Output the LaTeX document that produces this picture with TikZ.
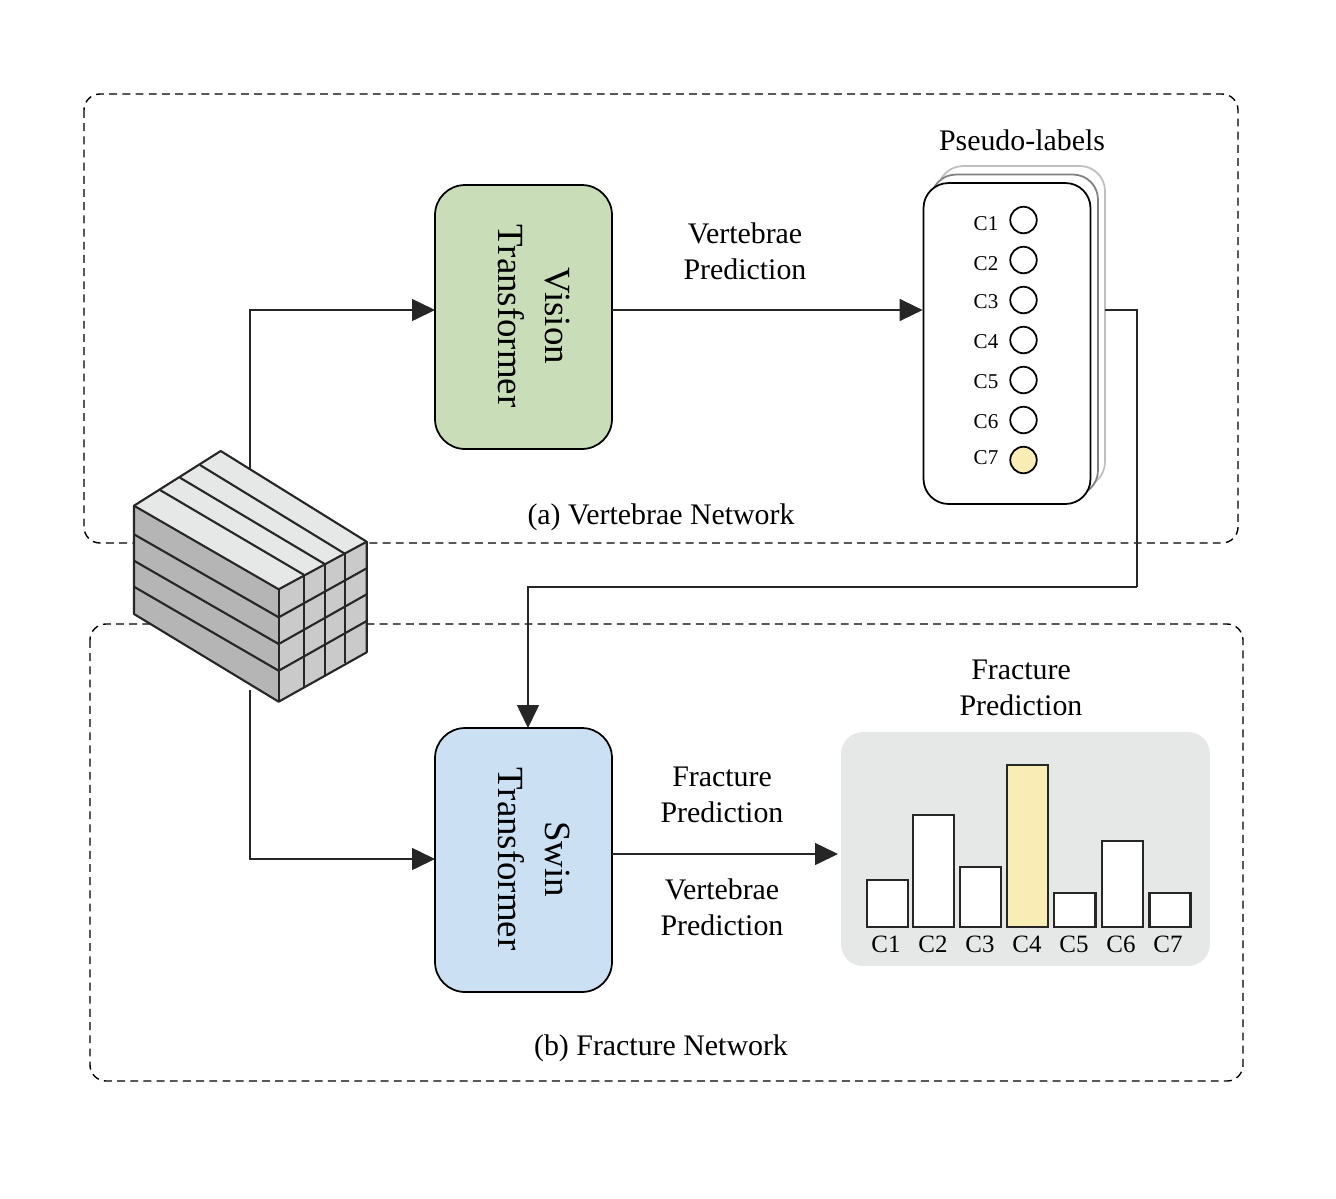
\documentclass[tikz,border=0pt]{standalone}
\usepackage{fontspec}
\setmainfont{Liberation Serif}
\usetikzlibrary{arrows.meta}
\definecolor{visioncol}{HTML}{CADDB9}
\definecolor{swincol}{HTML}{CBE1F3}
\definecolor{chartcol}{HTML}{E6E7E7}
\definecolor{markcol}{HTML}{F9EDB5}
\definecolor{cubetop}{HTML}{E6E7E7}
\definecolor{cubeleft}{HTML}{B5B5B5}
\definecolor{cubefront}{HTML}{CACACA}
\tikzset{
  netbox/.style={draw=black,dash pattern=on 4.5pt off 3pt,line width=0.8pt,rounded corners=0.32cm},
  blockbox/.style={draw=black,line width=1pt,rounded corners=0.6cm,minimum width=3.54cm,minimum height=5.28cm},
  labelcard/.style={draw=#1,fill=white,line width=1pt,rounded corners=0.5cm,minimum width=3.34cm,minimum height=6.42cm},
  pick/.style={draw=black,line width=1pt,circle,minimum size=0.53cm,inner sep=0pt},
  bar/.style={draw=black!85,fill=white,line width=1.2pt},
  cubeline/.style={draw=black!85,line width=1.2pt,line join=round},
  flow/.style={line width=0.9pt,draw=black!85,-{Triangle[length=0.46cm,width=0.44cm]}},
  plainflow/.style={line width=0.9pt,draw=black!85},
  txt/.style={font=\fontsize{17}{20.4}\selectfont,align=center,inner sep=0pt},
  blocktxt/.style={font=\fontsize{21}{26.5}\selectfont,align=center,rotate=-90,inner sep=0pt},
  ctxt/.style={font=\fontsize{12}{14}\selectfont,inner sep=0pt},
  bartxt/.style={font=\fontsize{14.2}{16}\selectfont,inner sep=0pt}
}
\begin{document}
\begin{tikzpicture}[x=0.02cm,y=-0.02cm]
  \useasboundingbox (0,0) rectangle (1336,1198);

  \draw[netbox]  (84,94) rectangle (1238,543); %上の破線枠
  \draw[netbox]  (90,624) rectangle (1243,1081); %下の破線枠
  \node[txt] (vertnet) at (661,517.5) {(a) Vertebrae Network};
  \node[txt] (fracnet) at (661,1048.5) {(b) Fracture Network};

  \node[blockbox,fill=visioncol] (vision) at (523.5,317) {};
  \node[blocktxt] (visiontxt) at (534,316) {Vision\\Transformer}; %上の箱
  \node[blockbox,fill=swincol] (swin) at (523.5,860) {};
  \node[blocktxt] (swintxt) at (534,859) {Swin\\Transformer}; %下の箱

  \node[labelcard=black!25] (cardc) at (1021.5,326.5) {};
  \node[labelcard=black!50] (cardb) at (1014.5,335) {};
  \node[labelcard=black] (carda) at (1007,343.5) {}; %重ねたカード
  \node[txt] (pseudo) at (1022,140) {Pseudo-labels};

  \node[pick] (pa) at (1023.5,220) {};
  \node[pick] (pb) at (1023.5,260) {};
  \node[pick] (pc) at (1023.5,300) {};
  \node[pick] (pd) at (1023.5,340) {};
  \node[pick] (pe) at (1023.5,380) {};
  \node[pick] (pf) at (1023.5,420) {};
  \node[pick,fill=markcol] (pg) at (1023.5,460) {}; %丸
  \node[ctxt] (la) at (986,224) {C1};
  \node[ctxt] (lb) at (986,264) {C2};
  \node[ctxt] (lc) at (986,302) {C3};
  \node[ctxt] (ld) at (986,342) {C4};
  \node[ctxt] (le) at (986,382) {C5};
  \node[ctxt] (lf) at (986,422) {C6};
  \node[ctxt] (lg) at (986,458) {C7}; %丸のラベル

  \node[draw=none,fill=chartcol,rounded corners=0.44cm,minimum width=7.38cm,minimum height=4.68cm] (chart) at (1025.5,849) {}; %棒グラフの背景
  \node[txt] (fractop) at (1021,688) {Fracture\\Prediction};
  \draw[bar]  (867,880) rectangle (908,927);
  \draw[bar]  (913,815) rectangle (954,927);
  \draw[bar]  (960,867) rectangle (1001,927);
  \draw[bar,fill=markcol]  (1007,765) rectangle (1048,927);
  \draw[bar]  (1054,893) rectangle (1095.5,927);
  \draw[bar]  (1102,841) rectangle (1143,927);
  \draw[bar]  (1149.5,893) rectangle (1190.5,927); %棒
  \node[bartxt] (ba) at (886,944) {C1};
  \node[bartxt] (bb) at (933,944) {C2};
  \node[bartxt] (bc) at (980,944) {C3};
  \node[bartxt] (bd) at (1027,944) {C4};
  \node[bartxt] (be) at (1074,944) {C5};
  \node[bartxt] (bf) at (1121,944) {C6};
  \node[bartxt] (bg) at (1168,944) {C7}; %棒のラベル

  \node[txt] (vertpred) at (745,251) {Vertebrae\\Prediction};
  \node[txt] (fracpred) at (722,795) {Fracture\\Prediction};
  \node[txt] (vertpredb) at (722,907) {Vertebrae\\Prediction};

  \coordinate (cubeup) at (250,480);
  \coordinate (cubedown) at (250,690);
  \coordinate (visionin) at (435,310);
  \coordinate (visionout) at (612,310);
  \coordinate (swinin) at (435,859);
  \coordinate (swintop) at (528,728);
  \coordinate (swinout) at (612,854);
  \coordinate (chartin) at (838,854);
  \coordinate (stackout) at (1105,310);
  \coordinate (turn) at (1137,587);
  \draw[flow]  (cubeup) |- (visionin);
  \draw[flow]  (cubedown) |- (swinin);
  \draw[flow]  (visionout) -- (visionout -| carda.west);
  \draw[flow]  (swinout) -- (chartin);
  \draw[plainflow]  (stackout) -| (turn);
  \draw[flow]  (turn) -| (swintop); %矢印

  \fill[cubetop]  (134,505.7) -- (220.7,451) -- (366.7,541.7) -- (278.7,589.3) -- cycle;
  \fill[cubeleft]  (134,505.7) -- (278.7,589.3) -- (278.7,701.7) -- (134,614) -- cycle;
  \fill[cubefront]  (278.7,589.3) -- (366.7,541.7) -- (366.7,652.3) -- (278.7,701.7) -- cycle; %直方体の面
  \draw[cubeline]  (160,490) -- (304.3,575);
  \draw[cubeline]  (180,477.7) -- (324.7,564);
  \draw[cubeline]  (200,465) -- (345.3,554); %上面の線
  \draw[cubeline]  (134,534.3) -- (278.7,617.3) -- (366.7,568.3);
  \draw[cubeline]  (134,560.7) -- (278.7,644) -- (366.7,594.3);
  \draw[cubeline]  (134,586.7) -- (278.7,670.7) -- (366.7,621); %横の線
  \draw[cubeline]  (304.3,575) -- (304.3,687.3);
  \draw[cubeline]  (324.7,564) -- (324.7,675);
  \draw[cubeline]  (345.3,554) -- (345.3,663); %縦の線
  \draw[cubeline]  (134,505.7) -- (220.7,451) -- (366.7,541.7) -- (366.7,652.3) -- (278.7,701.7) -- (134,614) -- cycle;
  \draw[cubeline]  (134,505.7) -- (278.7,589.3) -- (366.7,541.7);
  \draw[cubeline]  (278.7,589.3) -- (278.7,701.7); %直方体の輪郭
\end{tikzpicture}
\end{document}
